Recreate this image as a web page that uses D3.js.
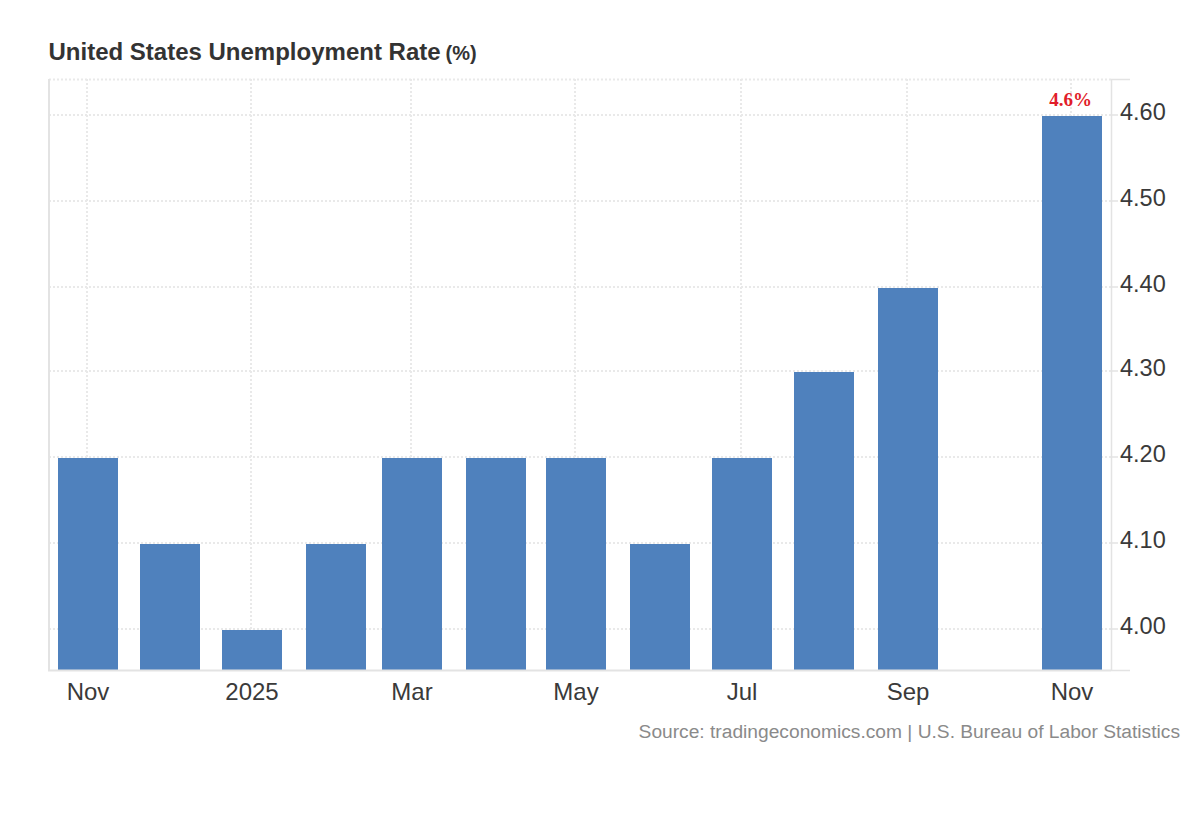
<!DOCTYPE html>
<html><head><meta charset="utf-8">
<script src="https://cdn.jsdelivr.net/npm/d3@7"></script>
<style>html,body{margin:0;padding:0;background:#fff}svg{display:block}text{font-family:"Liberation Sans",Arial,sans-serif}</style>
</head><body><svg id="c" width="1200" height="820"></svg>
<script>
const months = ["2024-11-01","2024-12-01","2025-01-01","2025-02-01","2025-03-01","2025-04-01","2025-05-01","2025-06-01","2025-07-01","2025-08-01","2025-09-01","2025-11-01"];
const rates = [4.2,4.1,4.0,4.1,4.2,4.2,4.2,4.1,4.2,4.3,4.4,4.6];
const xTickDates = ["2024-11-01","2025-01-01","2025-03-01","2025-05-01","2025-07-01","2025-09-01","2025-11-01"];
const xTickLabels = ["Nov","2025","Mar","May","Jul","Sep","Nov"];
const yTicks = [4.0,4.1,4.2,4.3,4.4,4.5,4.6];
const titleText = "United States Unemployment Rate";
const unitText = "(%)";
const sourceText = "Source: tradingeconomics.com | U.S. Bureau of Labor Statistics";
const lastLabel = "4.6%";

const parse = d3.utcParse("%Y-%m-%d");
const svg = d3.select("#c");
const L=49,R=1111,T=79,B=670;
const x = d3.scaleUtc().domain([parse("2024-11-01"),parse("2025-11-01")]).range([88.4,1072.8]);
const y = d3.scaleLinear().domain([4.0,4.6]).range([629.8,115.8]);
const grid="#e9e9e9", axisc="#e3e3e3", bw=60;
const snap = v => 2*Math.round(v/2);
const bx = d => snap(x(parse(d))-bw/2);
const by = v => snap(y(v));

const g = svg.append("g");
// grid
const dot = sel => sel.attr("stroke",grid).attr("stroke-width",2).attr("stroke-dasharray","2 2");
g.selectAll(".gy").data(yTicks).join("line")
 .attr("x1",L).attr("x2",R).attr("y1",d=>by(d)-1).attr("y2",d=>by(d)-1).call(dot);
g.selectAll(".gx").data(xTickDates).join("line")
 .attr("y1",T).attr("y2",B).attr("x1",d=>bx(d)+bw/2-1).attr("x2",d=>bx(d)+bw/2-1).call(dot);
g.append("line").attr("x1",L).attr("x2",R).attr("y1",T+.5).attr("y2",T+.5).call(dot);

// bars
g.selectAll(".bar").data(months).join("rect")
 .attr("x",d=>bx(d))
 .attr("width",bw)
 .attr("y",(d,i)=>by(rates[i]))
 .attr("height",(d,i)=>B-by(rates[i]))
 .attr("fill","#4f81bd");

// axis frame
g.append("line").attr("x1",49).attr("x2",49).attr("y1",T).attr("y2",B+1).attr("stroke",axisc).attr("stroke-width",2);
g.append("line").attr("x1",48).attr("x2",R).attr("y1",B+.5).attr("y2",B+.5).attr("stroke",axisc).attr("stroke-width",2);
g.append("line").attr("x1",R+.5).attr("x2",R+.5).attr("y1",T).attr("y2",B+1).attr("stroke",axisc).attr("stroke-width",1.5);
g.append("line").attr("x1",R).attr("x2",1130).attr("y1",T+.5).attr("y2",T+.5).attr("stroke",axisc).attr("stroke-width",1.5);
g.append("line").attr("x1",R).attr("x2",1130).attr("y1",B+.5).attr("y2",B+.5).attr("stroke",axisc).attr("stroke-width",1.5);
g.selectAll(".ty").data(yTicks).join("line")
 .attr("x1",R).attr("x2",1118).attr("y1",d=>by(d)-1).attr("y2",d=>by(d)-1).attr("stroke",axisc).attr("stroke-width",1.5);

// y labels
svg.selectAll(".yl").data(yTicks).join("text")
 .attr("x",1120).attr("y",d=>by(d)+4).attr("font-size",23.5).attr("fill","#3a3a3a")
 .text(d=>d3.format(".2f")(d));
// x labels
svg.selectAll(".xl").data(xTickDates).join("text")
 .attr("x",d=>bx(d)+bw/2).attr("y",700).attr("text-anchor","middle").attr("font-size",24).attr("fill","#3a3a3a")
 .text((d,i)=>xTickLabels[i]);
// title
const t = svg.append("text").attr("x",48.5).attr("y",60).attr("fill","#333").attr("font-weight","bold").attr("font-size",24).text(titleText);
t.append("tspan").attr("dx",5).attr("font-size",20).text(unitText);
// source
svg.append("text").attr("x",1180).attr("y",738).attr("text-anchor","end").attr("font-size",19.2).attr("fill","#8a8a8a").text(sourceText);
// last label
svg.append("text").attr("x",bx(months[months.length-1])+bw/2-1.5).attr("y",105.5).attr("text-anchor","middle")
 .attr("font-size",19).attr("font-weight","bold").attr("fill","#e11d2a").style("font-family","'Liberation Serif',serif").text(lastLabel);
</script></body></html>
